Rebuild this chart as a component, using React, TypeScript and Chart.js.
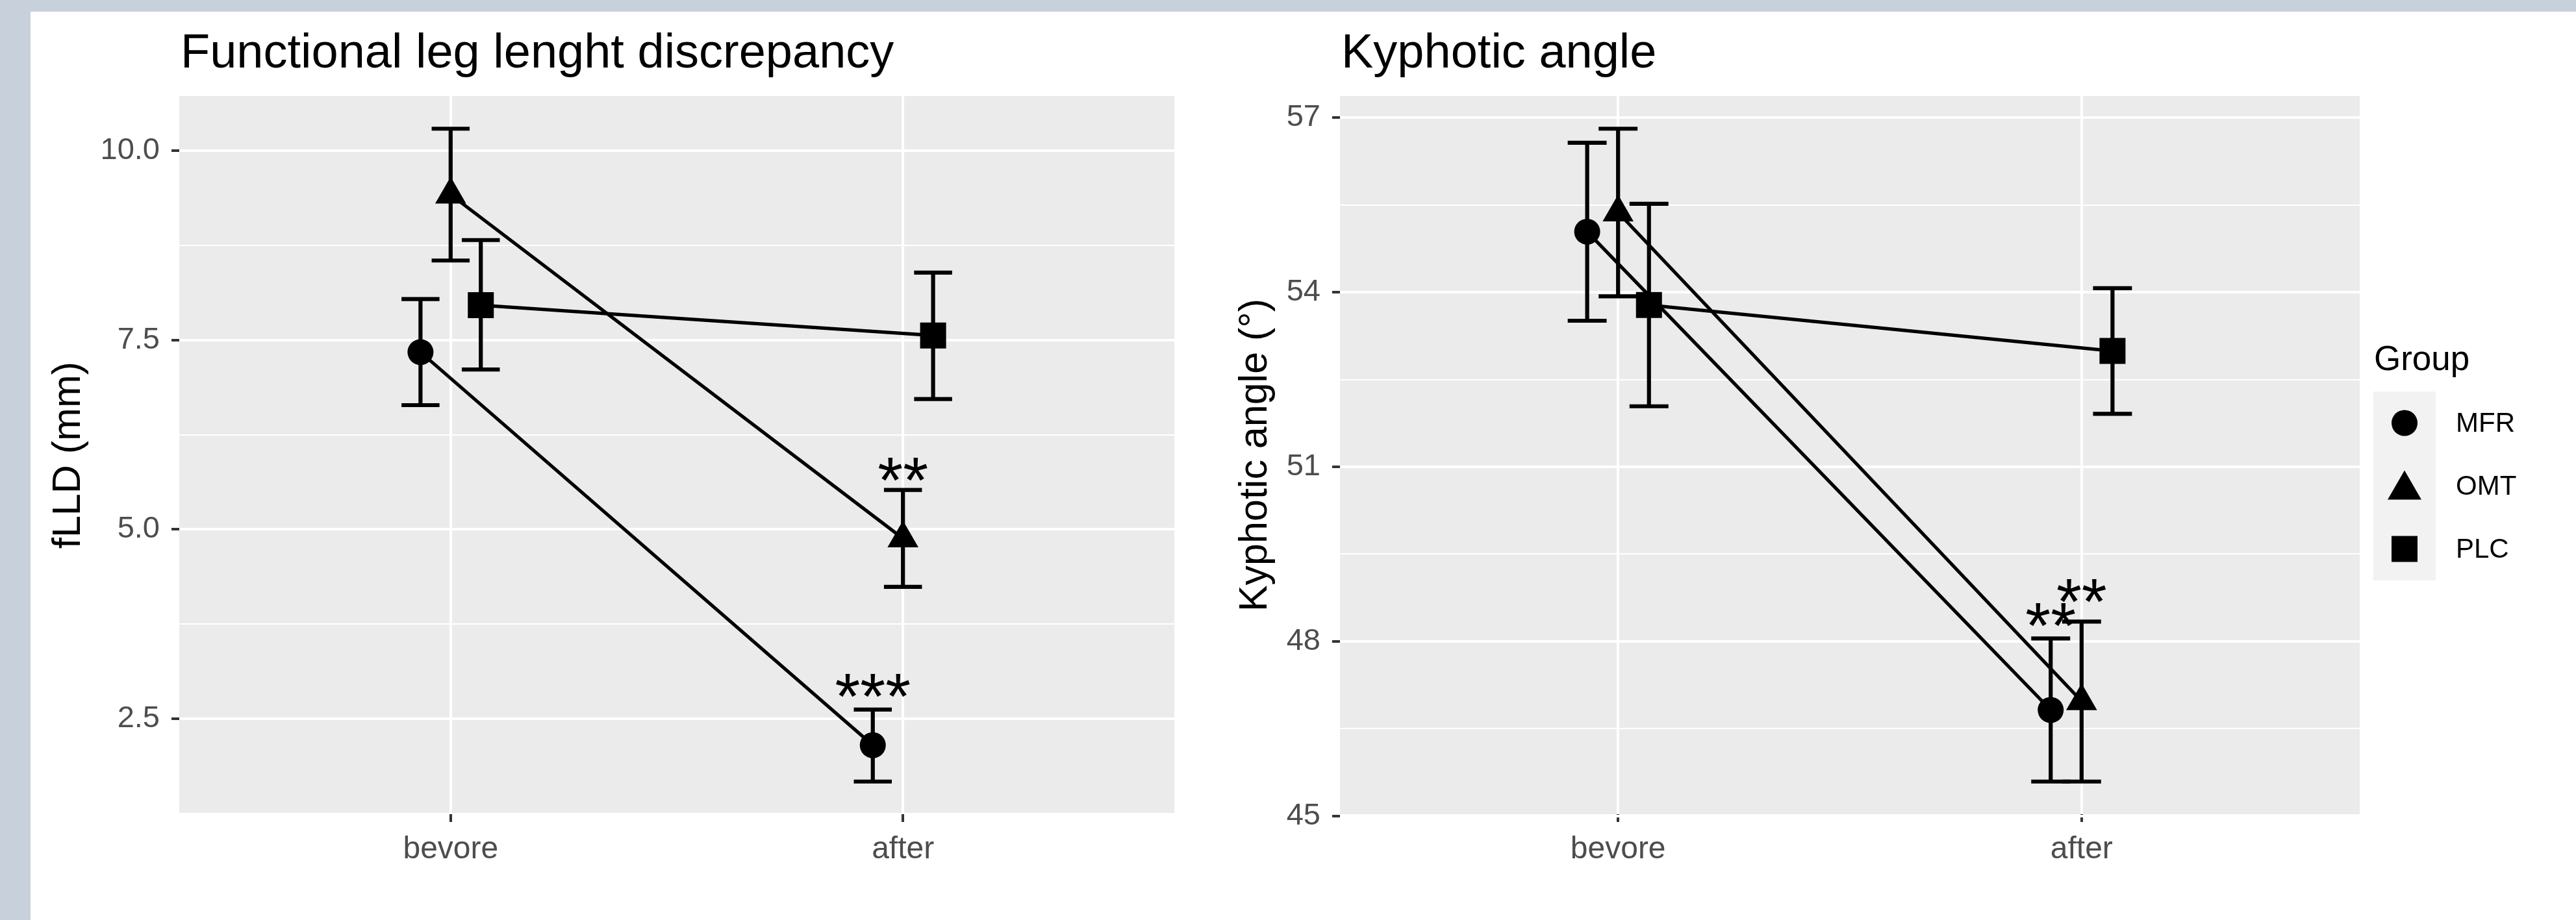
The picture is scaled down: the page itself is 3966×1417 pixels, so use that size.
import React, { useEffect, useRef } from 'react';
import { Chart, registerables } from 'chart.js';

Chart.register(...registerables);

const FONT = '"Liberation Sans", Arial, Helvetica, sans-serif';

// ---------- data ----------
const categories = ['bevore', 'after'];
const groups = ['MFR', 'OMT', 'PLC'];
const groupShapes = ['circle', 'triangle', 'rect'];

// Functional leg length discrepancy (mm): [group][category]
const flldMean = [[7.34, 2.15], [9.42, 4.88], [7.96, 7.56]];
const flldLower = [[6.64, 1.67], [8.55, 4.24], [7.11, 6.72]];
const flldUpper = [[8.04, 2.62], [10.29, 5.52], [8.82, 8.39]];
const flldMajorTicks = [2.5, 5.0, 7.5, 10.0];
const flldMinorTicks = [1.25, 3.75, 6.25, 8.75];
const flldSignifText = ['**', '***'];
const flldSignifGroup = [1, 0];
const flldSignifCat = [1, 1];
const flldSignifY = [5.64, 2.78];

// Kyphotic angle (deg): [group][category]
const kyphMean = [[55.04, 46.82], [55.37, 46.97], [53.78, 52.99]];
const kyphLower = [[53.51, 45.59], [53.93, 45.59], [52.04, 51.91]];
const kyphUpper = [[56.57, 48.05], [56.81, 48.34], [55.52, 54.07]];
const kyphMajorTicks = [45, 48, 51, 54, 57];
const kyphMinorTicks = [46.5, 49.5, 52.5, 55.5];
const kyphSignifText = ['**', '**'];
const kyphSignifGroup = [0, 1];
const kyphSignifCat = [1, 1];
const kyphSignifY = [48.25, 48.67];

// ---------- layout / style ----------
const W = 3966;
const H = 1417;
const DODGE = 0.2;
const CAP_HALF = 0.042;
const pointRadii = [20, 27.5, 28.3];

const dodgeOffset = (gi: number) => (gi - (groups.length - 1) / 2) * (DODGE / groups.length);

function paddedRange(lower: number[][], upper: number[][]) {
  const lo = Math.min(...lower.flat());
  const hi = Math.max(...upper.flat());
  const pad = (hi - lo) * 0.05;
  return [lo - pad, hi + pad];
}

type Spec = {
  title: string;
  yTitle: string;
  mean: number[][];
  lower: number[][];
  upper: number[][];
  major: number[];
  minor: number[];
  decimals: number;
  sigText: string[];
  sigGroup: number[];
  sigCat: number[];
  sigY: number[];
  canvasLeft: number;
  canvasWidth: number;
  areaLeft: number;
  areaRight: number;
  yTitlePad: number;
  legend: boolean;
};

const AREA_TOP = 148;
const AREA_BOTTOM = 1254;

function drawShape(ctx: CanvasRenderingContext2D, shape: string, x: number, y: number, r: number) {
  ctx.beginPath();
  if (shape === 'circle') {
    ctx.arc(x, y, r, 0, Math.PI * 2);
  } else if (shape === 'triangle') {
    ctx.moveTo(x, y - r);
    ctx.lineTo(x + r * Math.sqrt(3) / 2, y + r / 2);
    ctx.lineTo(x - r * Math.sqrt(3) / 2, y + r / 2);
    ctx.closePath();
  } else {
    const s = r / Math.SQRT2;
    ctx.rect(x - s, y - s, 2 * s, 2 * s);
  }
  ctx.fill();
}

function buildConfig(spec: Spec): any {
  const [yMin, yMax] = paddedRange(spec.lower, spec.upper);
  const allTicks = [...spec.minor, ...spec.major].sort((a, b) => a - b);
  const isMajor = (v: number) => spec.major.some((m) => Math.abs(m - v) < 1e-9);

  const datasets = groups.map((g, gi) => ({
    type: 'line',
    label: g,
    data: categories.map((_, ci) => ({ x: ci + 1 + dodgeOffset(gi), y: spec.mean[gi][ci] })),
    borderColor: '#000000',
    borderWidth: 5.2,
    backgroundColor: '#000000',
    pointStyle: groupShapes[gi],
    pointRadius: pointRadii[gi],
    pointHoverRadius: pointRadii[gi],
    pointBackgroundColor: '#000000',
    pointBorderColor: '#000000',
    pointBorderWidth: 0,
    fill: false,
    tension: 0,
    clip: false,
  }));

  const bgPlugin = {
    id: 'panelBg',
    beforeDraw(chart: any) {
      const { ctx, chartArea: a } = chart;
      ctx.save();
      ctx.fillStyle = '#ebebeb';
      ctx.fillRect(a.left, a.top, a.right - a.left, a.bottom - a.top);
      ctx.restore();
    },
  };

  const errPlugin = {
    id: 'errBars',
    afterDatasetsDraw(chart: any) {
      const { ctx } = chart;
      const xs = chart.scales.x;
      const ys = chart.scales.y;
      ctx.save();
      ctx.strokeStyle = '#000000';
      ctx.lineWidth = 6.2;
      ctx.lineCap = 'butt';
      groups.forEach((_, gi) => {
        categories.forEach((__, ci) => {
          const xv = ci + 1 + dodgeOffset(gi);
          const px = xs.getPixelForValue(xv);
          const pl = xs.getPixelForValue(xv - CAP_HALF);
          const pr = xs.getPixelForValue(xv + CAP_HALF);
          const yl = ys.getPixelForValue(spec.lower[gi][ci]);
          const yh = ys.getPixelForValue(spec.upper[gi][ci]);
          ctx.beginPath();
          ctx.moveTo(px, yl);
          ctx.lineTo(px, yh);
          ctx.moveTo(pl, yl);
          ctx.lineTo(pr, yl);
          ctx.moveTo(pl, yh);
          ctx.lineTo(pr, yh);
          ctx.stroke();
        });
      });
      // significance marks
      ctx.fillStyle = '#000000';
      ctx.font = `100px ${FONT}`;
      ctx.textAlign = 'center';
      ctx.textBaseline = 'alphabetic';
      spec.sigText.forEach((t, i) => {
        const xv = spec.sigCat[i] + 1 + dodgeOffset(spec.sigGroup[i]);
        const px = xs.getPixelForValue(xv);
        const bottom = ys.getPixelForValue(spec.sigY[i]);
        const m = ctx.measureText(t);
        ctx.fillText(t, px, bottom - m.actualBoundingBoxDescent);
      });
      ctx.restore();
    },
  };

  const titlePlugin = {
    id: 'panelTitle',
    afterDraw(chart: any) {
      const { ctx, chartArea: a } = chart;
      ctx.save();
      ctx.fillStyle = '#000000';
      ctx.font = `74px ${FONT}`;
      ctx.textAlign = 'left';
      ctx.textBaseline = 'alphabetic';
      ctx.fillText(spec.title, a.left + 2, 104);
      ctx.restore();
    },
  };

  const legendPlugin = {
    id: 'groupLegend',
    afterDraw(chart: any) {
      if (!spec.legend) return;
      const { ctx } = chart;
      const ox = spec.canvasLeft;
      const keyX = 3654 - ox;
      const keyY = 603;
      const keyW = 96;
      const keyH = 97;
      ctx.save();
      ctx.fillStyle = '#000000';
      ctx.font = `53px ${FONT}`;
      ctx.textAlign = 'left';
      ctx.textBaseline = 'alphabetic';
      ctx.fillText('Group', keyX + 1, 570);
      ctx.fillStyle = '#f2f2f2';
      ctx.fillRect(keyX, keyY, keyW, keyH * groups.length);
      const legendR = [20, 30, 28.3];
      groups.forEach((g, gi) => {
        const cy = keyY + keyH * gi + keyH / 2;
        ctx.fillStyle = '#000000';
        drawShape(ctx, groupShapes[gi], keyX + keyW / 2, gi === 1 ? cy + 6 : cy, legendR[gi]);
        ctx.font = `42px ${FONT}`;
        ctx.textBaseline = 'middle';
        ctx.fillText(g, 3781 - ox, cy + 2);
      });
      ctx.restore();
    },
  };

  return {
    type: 'line',
    data: { datasets },
    options: {
      animation: false,
      responsive: false,
      maintainAspectRatio: false,
      devicePixelRatio: 1,
      events: [],
      layout: {
        padding: {
          left: 0,
          top: AREA_TOP,
          right: spec.canvasWidth - (spec.areaRight - spec.canvasLeft),
          bottom: 0,
        },
      },
      plugins: {
        legend: { display: false },
        tooltip: { enabled: false },
        title: { display: false },
      },
      scales: {
        x: {
          type: 'linear',
          min: 0.4,
          max: 2.6,
          afterBuildTicks: (scale: any) => {
            scale.ticks = categories.map((_, i) => ({ value: i + 1 }));
          },
          afterFit: (scale: any) => {
            scale.height = H - AREA_BOTTOM;
          },
          ticks: {
            autoSkip: false,
            maxRotation: 0,
            minRotation: 0,
            padding: 14,
            color: '#4d4d4d',
            font: { family: FONT, size: 48 },
            callback: (v: number) => categories[Math.round(v) - 1] ?? '',
          },
          grid: {
            color: '#ffffff',
            lineWidth: 4,
            drawTicks: true,
            tickLength: 12,
            tickColor: '#333333',
            tickWidth: 4,
          },
          border: { display: false },
        },
        y: {
          type: 'linear',
          min: yMin,
          max: yMax,
          afterBuildTicks: (scale: any) => {
            scale.ticks = allTicks.map((v) => ({ value: v }));
          },
          afterFit: (scale: any) => {
            scale.width = spec.areaLeft - spec.canvasLeft;
          },
          ticks: {
            autoSkip: false,
            padding: 18,
            color: '#4d4d4d',
            font: { family: FONT, size: 47 },
            callback: (v: number) => (isMajor(v) ? v.toFixed(spec.decimals) : ''),
          },
          grid: {
            color: '#ffffff',
            lineWidth: (c: any) => (c.tick && isMajor(c.tick.value) ? 4 : 2),
            drawTicks: true,
            tickLength: 12,
            tickColor: (c: any) => (c.tick && isMajor(c.tick.value) ? '#333333' : 'rgba(0,0,0,0)'),
            tickWidth: 4,
          },
          border: { display: false },
          title: {
            display: true,
            text: spec.yTitle,
            color: '#000000',
            font: { family: FONT, size: 61 },
            padding: { top: spec.yTitlePad, bottom: 0 },
          },
        },
      },
    },
    plugins: [bgPlugin, errPlugin, titlePlugin, legendPlugin],
  };
}

const leftSpec: Spec = {
  title: 'Functional leg lenght discrepancy',
  yTitle: 'fLLD (mm)',
  mean: flldMean,
  lower: flldLower,
  upper: flldUpper,
  major: flldMajorTicks,
  minor: flldMinorTicks,
  decimals: 1,
  sigText: flldSignifText,
  sigGroup: flldSignifGroup,
  sigCat: flldSignifCat,
  sigY: flldSignifY,
  canvasLeft: 0,
  canvasWidth: 1880,
  areaLeft: 276,
  areaRight: 1808,
  yTitlePad: 70,
  legend: false,
};

const rightSpec: Spec = {
  title: 'Kyphotic angle',
  yTitle: 'Kyphotic angle (°)',
  mean: kyphMean,
  lower: kyphLower,
  upper: kyphUpper,
  major: kyphMajorTicks,
  minor: kyphMinorTicks,
  decimals: 0,
  sigText: kyphSignifText,
  sigGroup: kyphSignifGroup,
  sigCat: kyphSignifCat,
  sigY: kyphSignifY,
  canvasLeft: 1880,
  canvasWidth: W - 1880,
  areaLeft: 2063,
  areaRight: 3633,
  yTitlePad: 17,
  legend: true,
};

function Panel({ spec }: { spec: Spec }) {
  const ref = useRef<HTMLCanvasElement | null>(null);
  useEffect(() => {
    if (!ref.current) return;
    const chart = new Chart(ref.current, buildConfig(spec));
    return () => chart.destroy();
  }, [spec]);
  return (
    <canvas
      ref={ref}
      width={spec.canvasWidth}
      height={H}
      style={{ position: 'absolute', left: spec.canvasLeft, top: 0, width: spec.canvasWidth, height: H }}
    />
  );
}

export default function App() {
  return (
    <div
      style={{
        position: 'fixed',
        left: 0,
        top: 0,
        width: W,
        height: H,
        overflow: 'hidden',
        background: '#c8d0dc',
      }}
    >
      <div style={{ position: 'absolute', left: 47, top: 18, width: W - 47, height: H - 18, background: '#ffffff' }} />
      <Panel spec={leftSpec} />
      <Panel spec={rightSpec} />
    </div>
  );
}
